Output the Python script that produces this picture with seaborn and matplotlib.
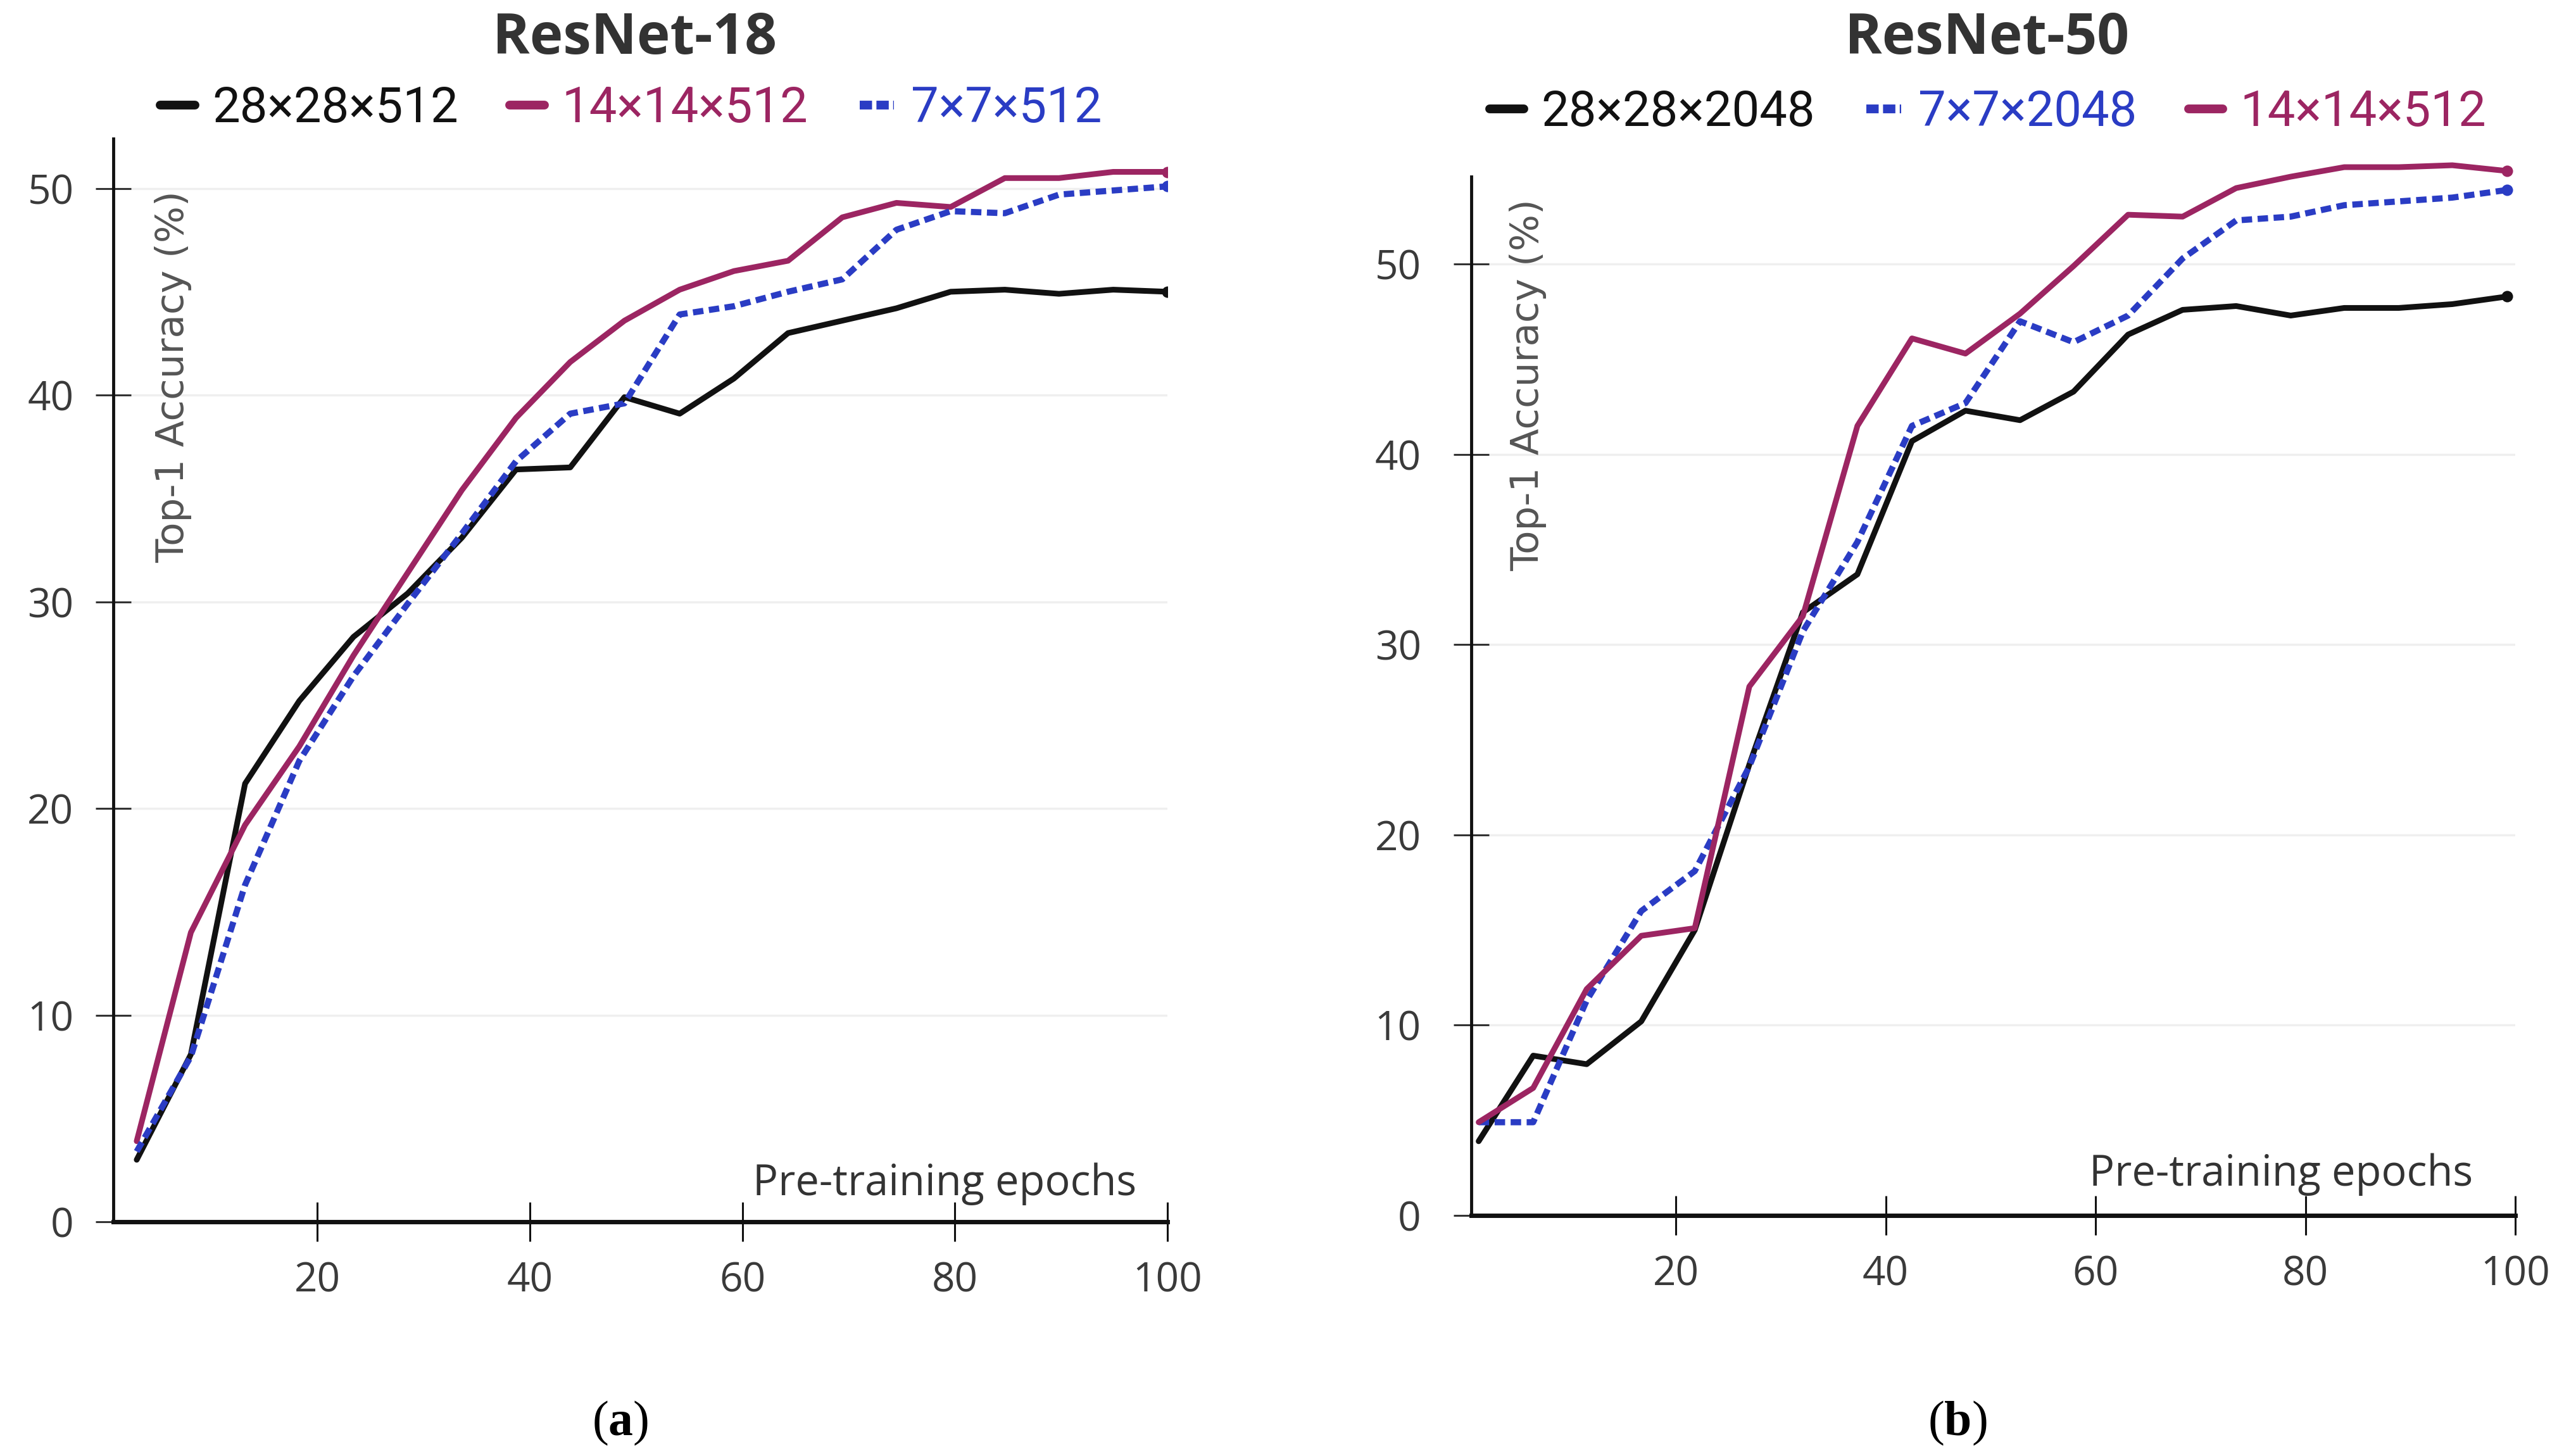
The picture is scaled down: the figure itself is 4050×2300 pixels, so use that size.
import pandas as pd
import matplotlib
matplotlib.use("Agg")
from matplotlib import pyplot as plt
from matplotlib.lines import Line2D
import seaborn as sns

# ResNet-18 panel
epochs_18 = [3.0, 8.1, 13.2, 18.3, 23.4, 28.5, 33.6, 38.7, 43.8, 48.9,
             54.1, 59.2, 64.3, 69.4, 74.5, 79.6, 84.7, 89.8, 94.9, 100.0]
acc18_28 = [3.0, 8.1, 21.2, 25.2, 28.3, 30.4, 33.1, 36.4, 36.5, 39.9,
            39.1, 40.8, 43.0, 43.6, 44.2, 45.0, 45.1, 44.9, 45.1, 45.0]
acc18_14 = [3.9, 14.0, 19.2, 23.0, 27.4, 31.4, 35.4, 38.9, 41.6, 43.6,
            45.1, 46.0, 46.5, 48.6, 49.3, 49.1, 50.5, 50.5, 50.8, 50.8]
acc18_7 = [3.4, 8.0, 16.3, 22.3, 26.4, 29.9, 33.3, 36.8, 39.1, 39.6,
           43.9, 44.3, 45.0, 45.6, 48.0, 48.9, 48.8, 49.7, 49.9, 50.1]

# ResNet-50 panel
epochs_50 = [1.2, 6.4, 11.5, 16.7, 21.8, 27.0, 32.1, 37.3, 42.5, 47.6,
             52.8, 57.9, 63.1, 68.3, 73.4, 78.6, 83.7, 88.9, 94.0, 99.2]
acc50_28 = [3.9, 8.4, 7.95, 10.2, 15.0, 23.7, 31.7, 33.7, 40.7, 42.3,
            41.8, 43.3, 46.3, 47.6, 47.8, 47.3, 47.7, 47.7, 47.9, 48.3]
acc50_7 = [4.9, 4.9, 11.3, 16.0, 18.1, 23.6, 30.7, 35.4, 41.5, 42.7,
           47.0, 45.9, 47.3, 50.3, 52.3, 52.5, 53.1, 53.3, 53.5, 53.9]
acc50_14 = [4.9, 6.7, 11.9, 14.7, 15.1, 27.8, 31.5, 41.5, 46.1, 45.3,
            47.4, 49.9, 52.6, 52.5, 54.0, 54.6, 55.1, 55.1, 55.2, 54.9]

x_ticks = [20, 40, 60, 80, 100]
y_ticks = [0, 10, 20, 30, 40, 50]

BLACK = "#111111"
MAGENTA = "#9c2562"
BLUE = "#2a3cc4"

sns.set_style("white")
plt.rcParams["font.family"] = ["Open Sans", "DejaVu Sans"]
plt.rcParams["mathtext.fontset"] = "custom"
plt.rcParams["mathtext.rm"] = "Liberation Serif"
plt.rcParams["mathtext.bf"] = "Liberation Serif:bold"

fig = plt.figure(figsize=(40.5, 23), dpi=100)
ax1 = fig.add_axes([179 / 4050, 370 / 2300, 1665 / 4050, 1714 / 2300])
ax2 = fig.add_axes([2324 / 4050, 380 / 2300, 1649 / 4050, 1683 / 2300])

styles = {
    "black": dict(color=BLACK, linewidth=6.5, linestyle="-"),
    "magenta": dict(color=MAGENTA, linewidth=6.5, linestyle="-"),
    "blue": dict(color=BLUE, linewidth=7, linestyle=(0, (1.7, 0.9))),
}

panels = [
    (ax1, epochs_18, [("28×28×512", acc18_28, "black"),
                      ("14×14×512", acc18_14, "magenta"),
                      ("7×7×512", acc18_7, "blue")],
     52.5, 52.4, (0.8, 100), 25, 997, 172),
    (ax2, epochs_50, [("28×28×2048", acc50_28, "black"),
                      ("7×7×2048", acc50_7, "blue"),
                      ("14×14×512", acc50_14, "magenta")],
     56, 54.6, (0.5, 100), 37, 3140, 178),
]

for ax, epochs, series, ytop, spine_top, xlim, ypad, leg_x, leg_y in panels:
    handles = []
    for label, vals, key in series:
        df = pd.DataFrame({"epoch": epochs, "acc": vals})
        st = styles[key]
        sns.lineplot(data=df, x="epoch", y="acc", ax=ax, color=st["color"],
                     linewidth=st["linewidth"], linestyle=st["linestyle"],
                     marker="o", markevery=[len(vals) - 1], markersize=13,
                     markeredgewidth=0, solid_capstyle="round", dash_capstyle="butt")
        handles.append(Line2D([], [], color=st["color"], linewidth=10,
                              linestyle="-" if key != "blue" else (0, (1.4, 0.5)),
                              label=label))
    ax.set_xlim(*xlim)
    ax.set_ylim(0, ytop)
    ax.set_xticks(x_ticks)
    ax.set_yticks(y_ticks)
    ax.set_xlabel("")
    ax.set_ylabel("")
    ax.grid(axis="y", color="#efefef", linewidth=2.5)
    ax.set_axisbelow(True)
    for s in ["top", "right"]:
        ax.spines[s].set_visible(False)
    ax.spines["left"].set_linewidth(3.5)
    ax.spines["left"].set_color("#111111")
    ax.spines["left"].set_bounds(0, spine_top)
    ax.spines["bottom"].set_linewidth(5)
    ax.spines["bottom"].set_color("#111111")
    ax.tick_params(axis="x", bottom=True, direction="inout", length=45, width=2.2,
                   pad=22, labelsize=46, colors="#111111", labelcolor="#3a3a3a")
    ax.tick_params(axis="y", left=True, direction="inout", length=40, width=2.2,
                   pad=ypad, labelsize=46, colors="#333333", labelcolor="#3a3a3a")

    fig.legend(handles=handles, loc="center", ncol=3, frameon=False,
               bbox_to_anchor=(leg_x / 4050, 1 - leg_y / 2300),
               prop={"family": "Roboto", "size": 56}, labelcolor="linecolor",
               handlelength=0.7, handletextpad=0.35, columnspacing=1.05)

# titles
fig.text(1003 / 4050, 1 - 62 / 2300, "ResNet-18", ha="center", va="center",
         fontsize=64, fontweight="bold", color="#333333")
fig.text(3139 / 4050, 1 - 62 / 2300, "ResNet-50", ha="center", va="center",
         fontsize=64, fontweight="bold", color="#333333")

# axis labels placed inside the plot area
fig.text(274 / 4050, 1 - 595 / 2300, "Top-1 Accuracy (%)", rotation=90,
         ha="center", va="center", fontsize=44, color="#555555", family="DejaVu Sans")
fig.text(2414 / 4050, 1 - 608 / 2300, "Top-1 Accuracy (%)", rotation=90,
         ha="center", va="center", fontsize=44, color="#555555", family="DejaVu Sans")
fig.text(1492 / 4050, 1 - 1870 / 2300, "Pre-training epochs", ha="center",
         va="center", fontsize=48, color="#333333")
fig.text(3603 / 4050, 1 - 1855 / 2300, "Pre-training epochs", ha="center",
         va="center", fontsize=48, color="#333333")

# captions
fig.text(980 / 4050, 1 - 2248 / 2300, "(" + r"$\mathbf{a}$" + ")", ha="center",
         va="center", fontsize=56, family="Liberation Serif", color="black")
fig.text(3092 / 4050, 1 - 2248 / 2300, "(" + r"$\mathbf{b}$" + ")", ha="center",
         va="center", fontsize=56, family="Liberation Serif", color="black")

fig.savefig("out.png", dpi=100, facecolor="white")
